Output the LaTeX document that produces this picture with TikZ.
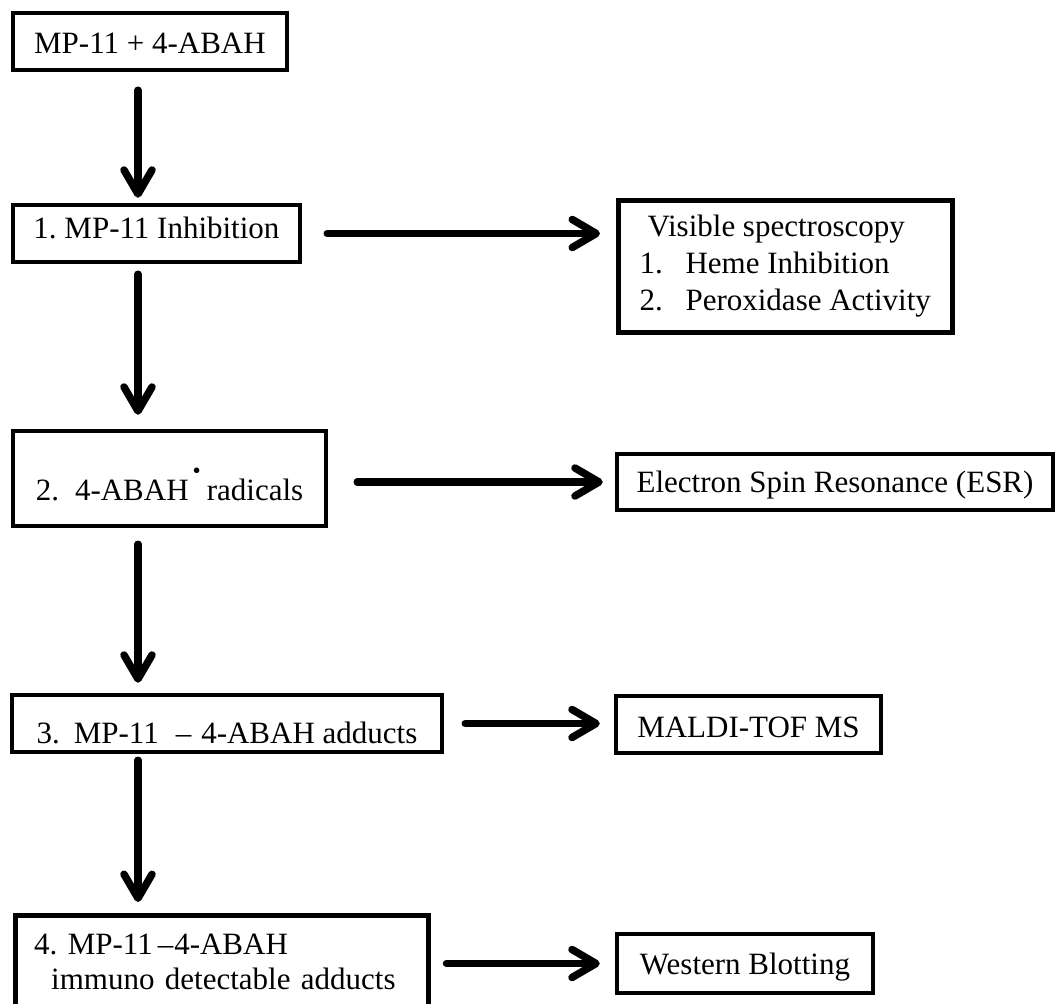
\documentclass[tikz,border=0pt]{standalone}
\usepackage{fontspec}
\setmainfont{Liberation Serif}
\usepackage{graphicx}
\usetikzlibrary{arrows.meta}
\frenchspacing
\begin{document}
\begin{tikzpicture}[x=1pt,y=-1pt,
  box/.style={draw, line width=4.5pt, inner sep=0pt, font=\fontsize{31}{37}\selectfont\frenchspacing},
  single/.style={text depth=0pt, text height=#1},
  arr/.style={line width=7.5pt, line cap=round, -{Straight Barb[length=24pt,width=28pt,round]}},
]
\clip (0,0) rectangle (1055,1004);
\fill[white] (0,0) rectangle (1055,1004);

\node[box, single=23pt, minimum width=274pt, minimum height=57pt] (b0) at (150,41.5) {MP-11 + 4-ABAH};
\node[box, single=10pt, minimum width=287pt, minimum height=57pt] (b1) at (156.5,233.5) {1. MP-11 Inhibition\hspace{12pt}};
\node[box, anchor=north west, minimum width=334pt, inner ysep=15pt, align=left,
      font=\fontsize{31}{37}\selectfont\frenchspacing] (vs) at (616,198)
  {\hspace*{8pt}Visible spectroscopy\\
   \makebox[46pt][l]{1.}Heme Inhibition\\
   \makebox[46pt][l]{2.}Peroxidase Activity};
\node[box, single=43pt, minimum width=313pt, minimum height=95pt] (b2) at (169.5,478.5)
  {2.\hspace{16pt}4-ABAH\hspace{4pt}\raisebox{22pt}{\scalebox{0.75}{\textbullet}}\hspace{6pt}radicals};
\node[box, single=20pt, minimum width=436pt, minimum height=56pt] (esr) at (835,482) {Electron Spin Resonance (ESR)};
\node[box, single=39pt, minimum width=430pt, minimum height=57pt] (b3) at (227,723.5)
  {3.\hspace{14pt}MP-11\hspace{17pt}\textendash\hspace{10pt}4-ABAH adducts};
\node[box, single=25pt, minimum width=265pt, minimum height=57pt] (maldi) at (748.5,724.5) {MALDI-TOF MS};
\node[box, anchor=north west, text width=375pt, inner xsep=19pt, inner ysep=19pt, align=left,
      font=\fontsize{31}{35}\selectfont\frenchspacing] (b4) at (13,913)
  {4. MP-11\hspace{5pt}\textendash\hspace{1pt}4-ABAH\\
   \hspace*{17pt}immuno detectable adducts\rule[-25pt]{0pt}{25pt}};
\node[box, single=21pt, minimum width=256pt, minimum height=59pt] (wb) at (745,963.5) {Western Blotting};

\coordinate (vx) at (138,0);
\draw[arr, shorten <=18pt, shorten >=5pt] (b0.south -| vx) -- (b1.north -| vx);
\draw[arr, shorten <=10pt, shorten >=14pt] (b1.south -| vx) -- (b2.north -| vx);
\draw[arr, shorten <=16pt, shorten >=10pt] (b2.south -| vx) -- (b3.north -| vx);
\draw[arr, shorten <=6pt, shorten >=11pt] (b3.south -| vx) -- (b4.north -| vx);

\draw[arr, shorten <=25pt, shorten >=16pt] (b1.east) -- (vs.west |- b1.east);
\draw[arr, shorten <=29pt, shorten >=12pt] (b2.east |- esr.west) -- (esr.west);
\draw[arr, shorten <=21pt, shorten >=14pt] (b3.east) -- (maldi.west |- b3.east);
\draw[arr, shorten <=16pt, shorten >=15pt] (b4.east |- wb.west) -- (wb.west);
\end{tikzpicture}
\end{document}
